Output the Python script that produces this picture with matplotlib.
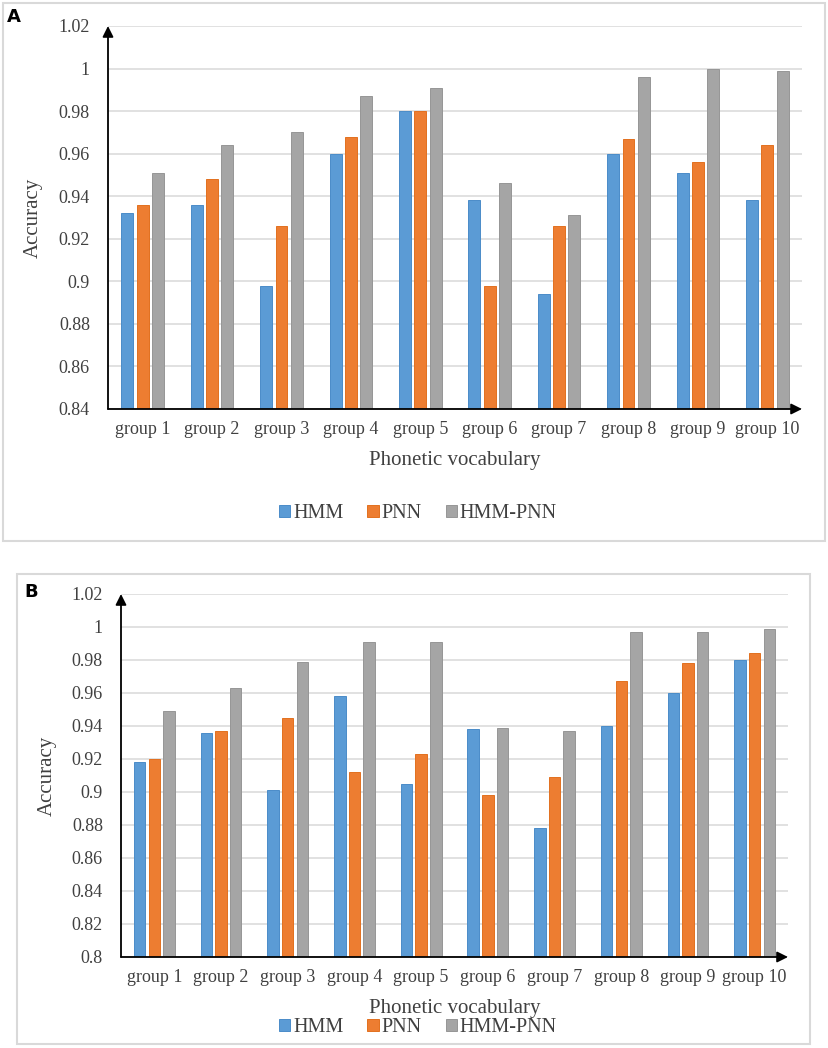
import numpy as np
import matplotlib
matplotlib.use("Agg")
import matplotlib.pyplot as plt
from matplotlib.patches import Rectangle, Patch
from matplotlib.ticker import FuncFormatter

groups = ["group 1", "group 2", "group 3", "group 4", "group 5",
          "group 6", "group 7", "group 8", "group 9", "group 10"]
series = ["HMM", "PNN", "HMM-PNN"]

# panel A
hmm_a = [0.932, 0.936, 0.898, 0.960, 0.980, 0.938, 0.894, 0.960, 0.951, 0.938]
pnn_a = [0.936, 0.948, 0.926, 0.968, 0.980, 0.898, 0.926, 0.967, 0.956, 0.964]
hybrid_a = [0.951, 0.964, 0.970, 0.987, 0.991, 0.946, 0.931, 0.996, 1.000, 0.999]

# panel B
hmm_b = [0.918, 0.936, 0.901, 0.958, 0.905, 0.938, 0.878, 0.940, 0.960, 0.980]
pnn_b = [0.920, 0.937, 0.945, 0.912, 0.923, 0.898, 0.909, 0.967, 0.978, 0.984]
hybrid_b = [0.949, 0.963, 0.979, 0.991, 0.991, 0.939, 0.937, 0.997, 0.997, 0.999]

colors = ["#5B9BD5", "#ED7D31", "#A5A5A5"]
edges = ["#4A8CC8", "#E2701F", "#969696"]

W, H = 829, 1048
plt.rcParams['font.family'] = ['Liberation Serif', 'DejaVu Serif']

fig = plt.figure(figsize=(W / 100, H / 100), dpi=100)


def fx(px):
    return px / W


def fy(py):
    return 1 - py / H


def draw_panel(left, right, top, bottom, ymin, data, ylab_x, xl_y, leg_y,
               box, letter):
    ax = fig.add_axes([fx(left), fy(bottom), fx(right - left), (bottom - top) / H])
    x = np.arange(len(groups))
    pitch = 0.22
    for i, vals in enumerate(data):
        ax.bar(x + (i - 1) * pitch, vals, width=0.172, color=colors[i],
               edgecolor=edges[i], linewidth=0.7, zorder=3)
    ax.set_xlim(-0.5, len(groups) - 0.5)
    ax.set_ylim(ymin, 1.02)
    ax.set_yticks(np.arange(ymin, 1.0201, 0.02))
    ax.yaxis.set_major_formatter(FuncFormatter(lambda v, p: f"{round(v, 2):g}"))
    ax.set_xticks(x)
    ax.set_xticklabels(groups)
    ax.tick_params(axis='both', length=0, labelsize=13, colors='#404040')
    ax.tick_params(axis='y', pad=13)
    ax.tick_params(axis='x', pad=9)
    ax.grid(axis='y', color='#D9D9D9', linewidth=1.1, zorder=0)
    for s in ax.spines.values():
        s.set_visible(False)
    # axis lines with arrow heads
    ax.annotate('', xy=(0, 1), xytext=(0, 0), xycoords='axes fraction',
                arrowprops=dict(arrowstyle='-|>', color='black', lw=1.3,
                                mutation_scale=16, shrinkA=0, shrinkB=0), zorder=5)
    ax.annotate('', xy=(1, 0), xytext=(0, 0), xycoords='axes fraction',
                arrowprops=dict(arrowstyle='-|>', color='black', lw=1.3,
                                mutation_scale=16, shrinkA=0, shrinkB=0), zorder=5)
    fig.text(fx(ylab_x), fy((top + bottom) / 2), "Accuracy", rotation=90,
             ha='center', va='center', fontsize=15, color='#404040')
    fig.text(fx((left + right) / 2), fy(xl_y), "Phonetic vocabulary",
             ha='center', va='center', fontsize=15, color='#404040')
    handles = [Patch(facecolor=colors[i], edgecolor=edges[i], linewidth=0.7)
               for i in range(3)]
    fig.legend(handles, series, loc='center', bbox_to_anchor=(fx(418), fy(leg_y)),
               ncol=3, frameon=False, fontsize=14.5, handlelength=0.55,
               handleheight=0.55, handletextpad=0.15, columnspacing=1.2,
               labelcolor='#404040')
    bl, bt, br, bb = box
    fig.patches.append(Rectangle((fx(bl), fy(bb)), fx(br - bl), (bb - bt) / H,
                                 transform=fig.transFigure, fill=False,
                                 edgecolor='#D9D9D9', linewidth=1.5))
    fig.text(fx(letter[0]), fy(letter[1]), letter[2], ha='center', va='center',
             fontsize=13, fontweight='bold', family='DejaVu Sans')
    return ax


draw_panel(108, 802, 26, 409, 0.84, [hmm_a, pnn_a, hybrid_a],
           33, 461, 514, (3, 3, 825, 541), (14, 17, "A"))
draw_panel(121, 788, 594, 957, 0.80, [hmm_b, pnn_b, hybrid_b],
           47, 1008, 1028, (17, 574, 810, 1044), (31, 592, "B"))

fig.savefig("out.png", dpi=100)
